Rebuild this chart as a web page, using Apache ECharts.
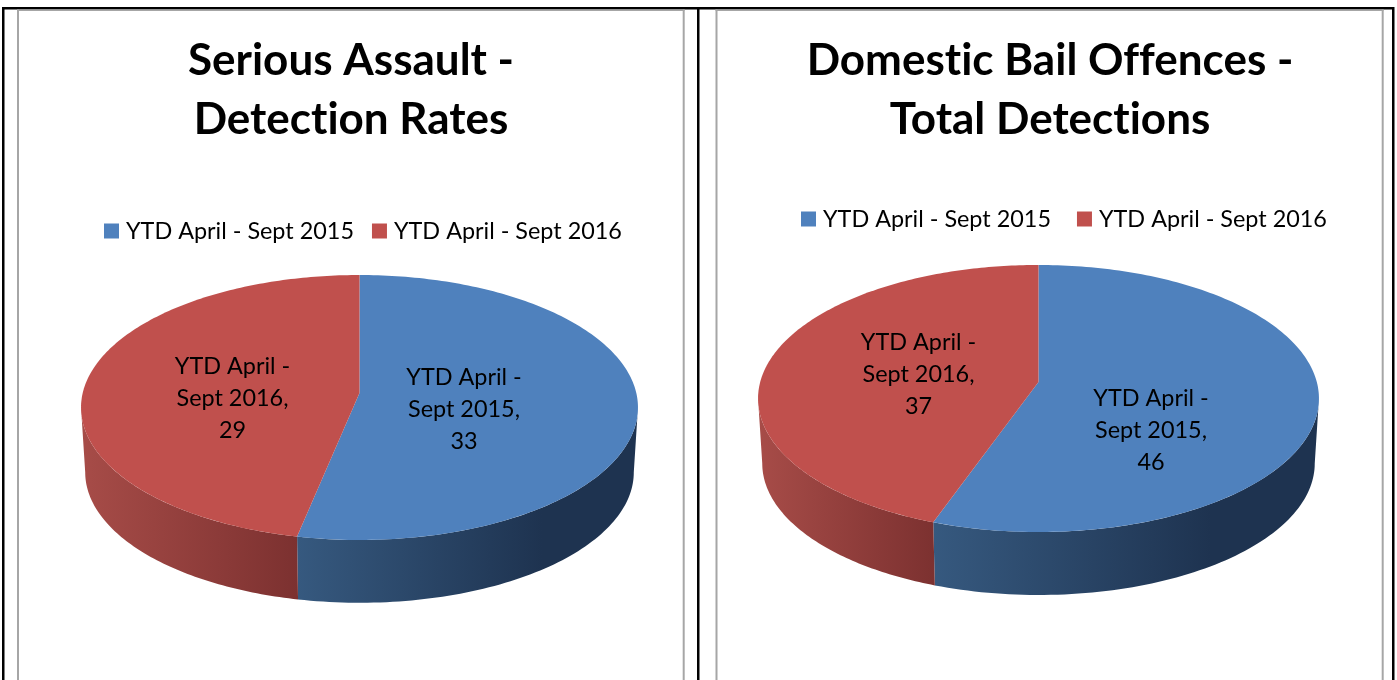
<!DOCTYPE html>
<html>
<head>
<meta charset="utf-8">
<style>html,body{margin:0;padding:0;background:#fff}#c{width:1397px;height:680px}</style>
<script src="https://cdn.jsdelivr.net/npm/echarts@6/dist/echarts.min.js"></script>
</head>
<body>
<div id="c"></div>
<script>
const categories = ['YTD April - Sept 2015', 'YTD April - Sept 2016'];
const assaultValues = [33, 29];
const bailValues = [46, 37];
const assaultTitle = 'Serious Assault -\nDetection Rates';
const bailTitle = 'Domestic Bail Offences -\nTotal Detections';

// the reference font has no "ti" ligatures, so switch them off on every canvas context
const origGetContext = HTMLCanvasElement.prototype.getContext;
HTMLCanvasElement.prototype.getContext = function () {
  const ctx = origGetContext.apply(this, arguments);
  if (ctx && 'textRendering' in ctx) ctx.textRendering = 'optimizeSpeed';
  return ctx;
};

const FONT = 'Lato, Carlito, "Open Sans", sans-serif';
const colors = ['#4f81bd', '#c0504d'];
const sideStops = [
  [[0, '#36597f'], [0.72, '#1e3350'], [1, '#1e3350']],
  [[0, '#a74c48'], [1, '#7c3130']]
];

// layout of each 3D disc: projection of a tilted circle
const layouts = [
  {values: assaultValues, cx: 359.5, y0: 393, sx: 276.8, sy: 130.9, p: 0.1094, depth: 65,
   labels: [[104.5, 16], [-127, 5]]},
  {values: bailValues, cx: 1038.5, y0: 382, sx: 278.3, sy: 131.5, p: 0.1236, depth: 65.2,
   labels: [[112.5, 48], [-120, -8]]}
];
const SHRINK = 0.985;

function project(l, theta, bottom) {
  const u = Math.sin(theta), v = -Math.cos(theta), d = 1 - l.p * v;
  const k = bottom ? SHRINK : 1;
  return [l.cx + l.sx * k * u / d, l.y0 + (bottom ? l.depth : 0) + l.sy * k * v / d];
}

function makeRender(l, idx) {
  return function (params, api) {
    const value = api.value(0);
    const total = l.values.reduce((a, b) => a + b, 0);
    const before = l.values.slice(0, idx).reduce((a, b) => a + b, 0);
    const a0 = before / total * 2 * Math.PI;
    const a1 = (before + value) / total * 2 * Math.PI;
    const tan = Math.acos(-l.p);
    const children = [];

    // side wall (front, visible part only)
    const s0 = Math.max(a0, tan), s1 = Math.min(a1, 2 * Math.PI - tan);
    if (s1 > s0) {
      const top = [], bot = [];
      const n = 80;
      for (let i = 0; i <= n; i++) {
        const t = s0 + (s1 - s0) * i / n;
        top.push(project(l, t, false));
        bot.unshift(project(l, t, true));
      }
      children.push({
        type: 'polygon', z2: 1,
        shape: {points: top.concat(bot)},
        style: {fill: new echarts.graphic.LinearGradient(0, 0, 1, 0,
          sideStops[idx].map(s => ({offset: s[0], color: s[1]})))}
      });
    }

    // top face
    const pts = [[l.cx, l.y0]];
    const n = 180;
    for (let i = 0; i <= n; i++) pts.push(project(l, a0 + (a1 - a0) * i / n, false));
    children.push({type: 'polygon', z2: 2, shape: {points: pts}, style: {fill: colors[idx]}});

    // data label
    const nameParts = categories[idx].split(' - ');
    children.push({
      type: 'text', z2: 3,
      x: l.cx + l.labels[idx][0], y: l.y0 + l.labels[idx][1],
      style: {
        text: nameParts[0] + ' -\n' + nameParts[1] + ',\n' + value,
        font: '23.4px ' + FONT, fill: '#000', align: 'center', verticalAlign: 'middle', lineHeight: 32
      }
    });
    return {type: 'group', children};
  };
}

const series = [];
layouts.forEach(l => {
  categories.forEach((name, idx) => {
    series.push({
      type: 'custom', name, coordinateSystem: 'none', clip: false, silent: true,
      itemStyle: {color: colors[idx]},
      renderItem: makeRender(l, idx),
      data: [[l.values[idx]]]
    });
  });
});

function vline(x, w, y0, y1, c) { return {type: 'rect', shape: {x, y: y0, width: w, height: y1 - y0}, style: {fill: c}}; }
function hline(x0, x1, y, h, c) { return {type: 'rect', shape: {x: x0, y, width: x1 - x0, height: h}, style: {fill: c}}; }

const legendBase = {
  data: categories, orient: 'horizontal', icon: 'rect', itemWidth: 15, itemHeight: 15,
  padding: 0, selectedMode: false,
  textStyle: {fontFamily: FONT, fontSize: 23.4, color: '#000', padding: [0, 0, 0, 2]}
};

const chart = echarts.init(document.getElementById('c'), null, {renderer: 'canvas'});
chart.setOption({
  animation: false,
  backgroundColor: '#fff',
  title: [
    {text: assaultTitle, left: 351, top: 31, textAlign: 'center', padding: 0,
     textStyle: {fontFamily: FONT, fontWeight: 'bold', fontSize: 44, lineHeight: 59, color: '#000'}},
    {text: bailTitle, left: 1050, top: 31, textAlign: 'center', padding: 0,
     textStyle: {fontFamily: FONT, fontWeight: 'bold', fontSize: 44, lineHeight: 59, color: '#000'}}
  ],
  legend: [
    Object.assign({left: 104, top: 219.5, itemGap: 18}, legendBase),
    Object.assign({left: 801, top: 207.5, itemGap: 26}, legendBase)
  ],
  graphic: [
    hline(2, 1394, 7, 2.5, '#000'),
    vline(2, 2.5, 7, 680, '#000'),
    vline(697, 2.5, 7, 680, '#000'),
    vline(1392, 2.5, 7, 680, '#000'),
    hline(17, 684.5, 9.5, 1.5, '#a6a6a6'),
    vline(17, 2, 9.5, 680, '#a6a6a6'),
    vline(682.7, 2, 9.5, 680, '#a6a6a6'),
    hline(715.5, 1383.5, 9.5, 1.5, '#a6a6a6'),
    vline(715.5, 2, 9.5, 680, '#a6a6a6'),
    vline(1381.7, 2, 9.5, 680, '#a6a6a6')
  ],
  series
});
</script>
</body>
</html>
